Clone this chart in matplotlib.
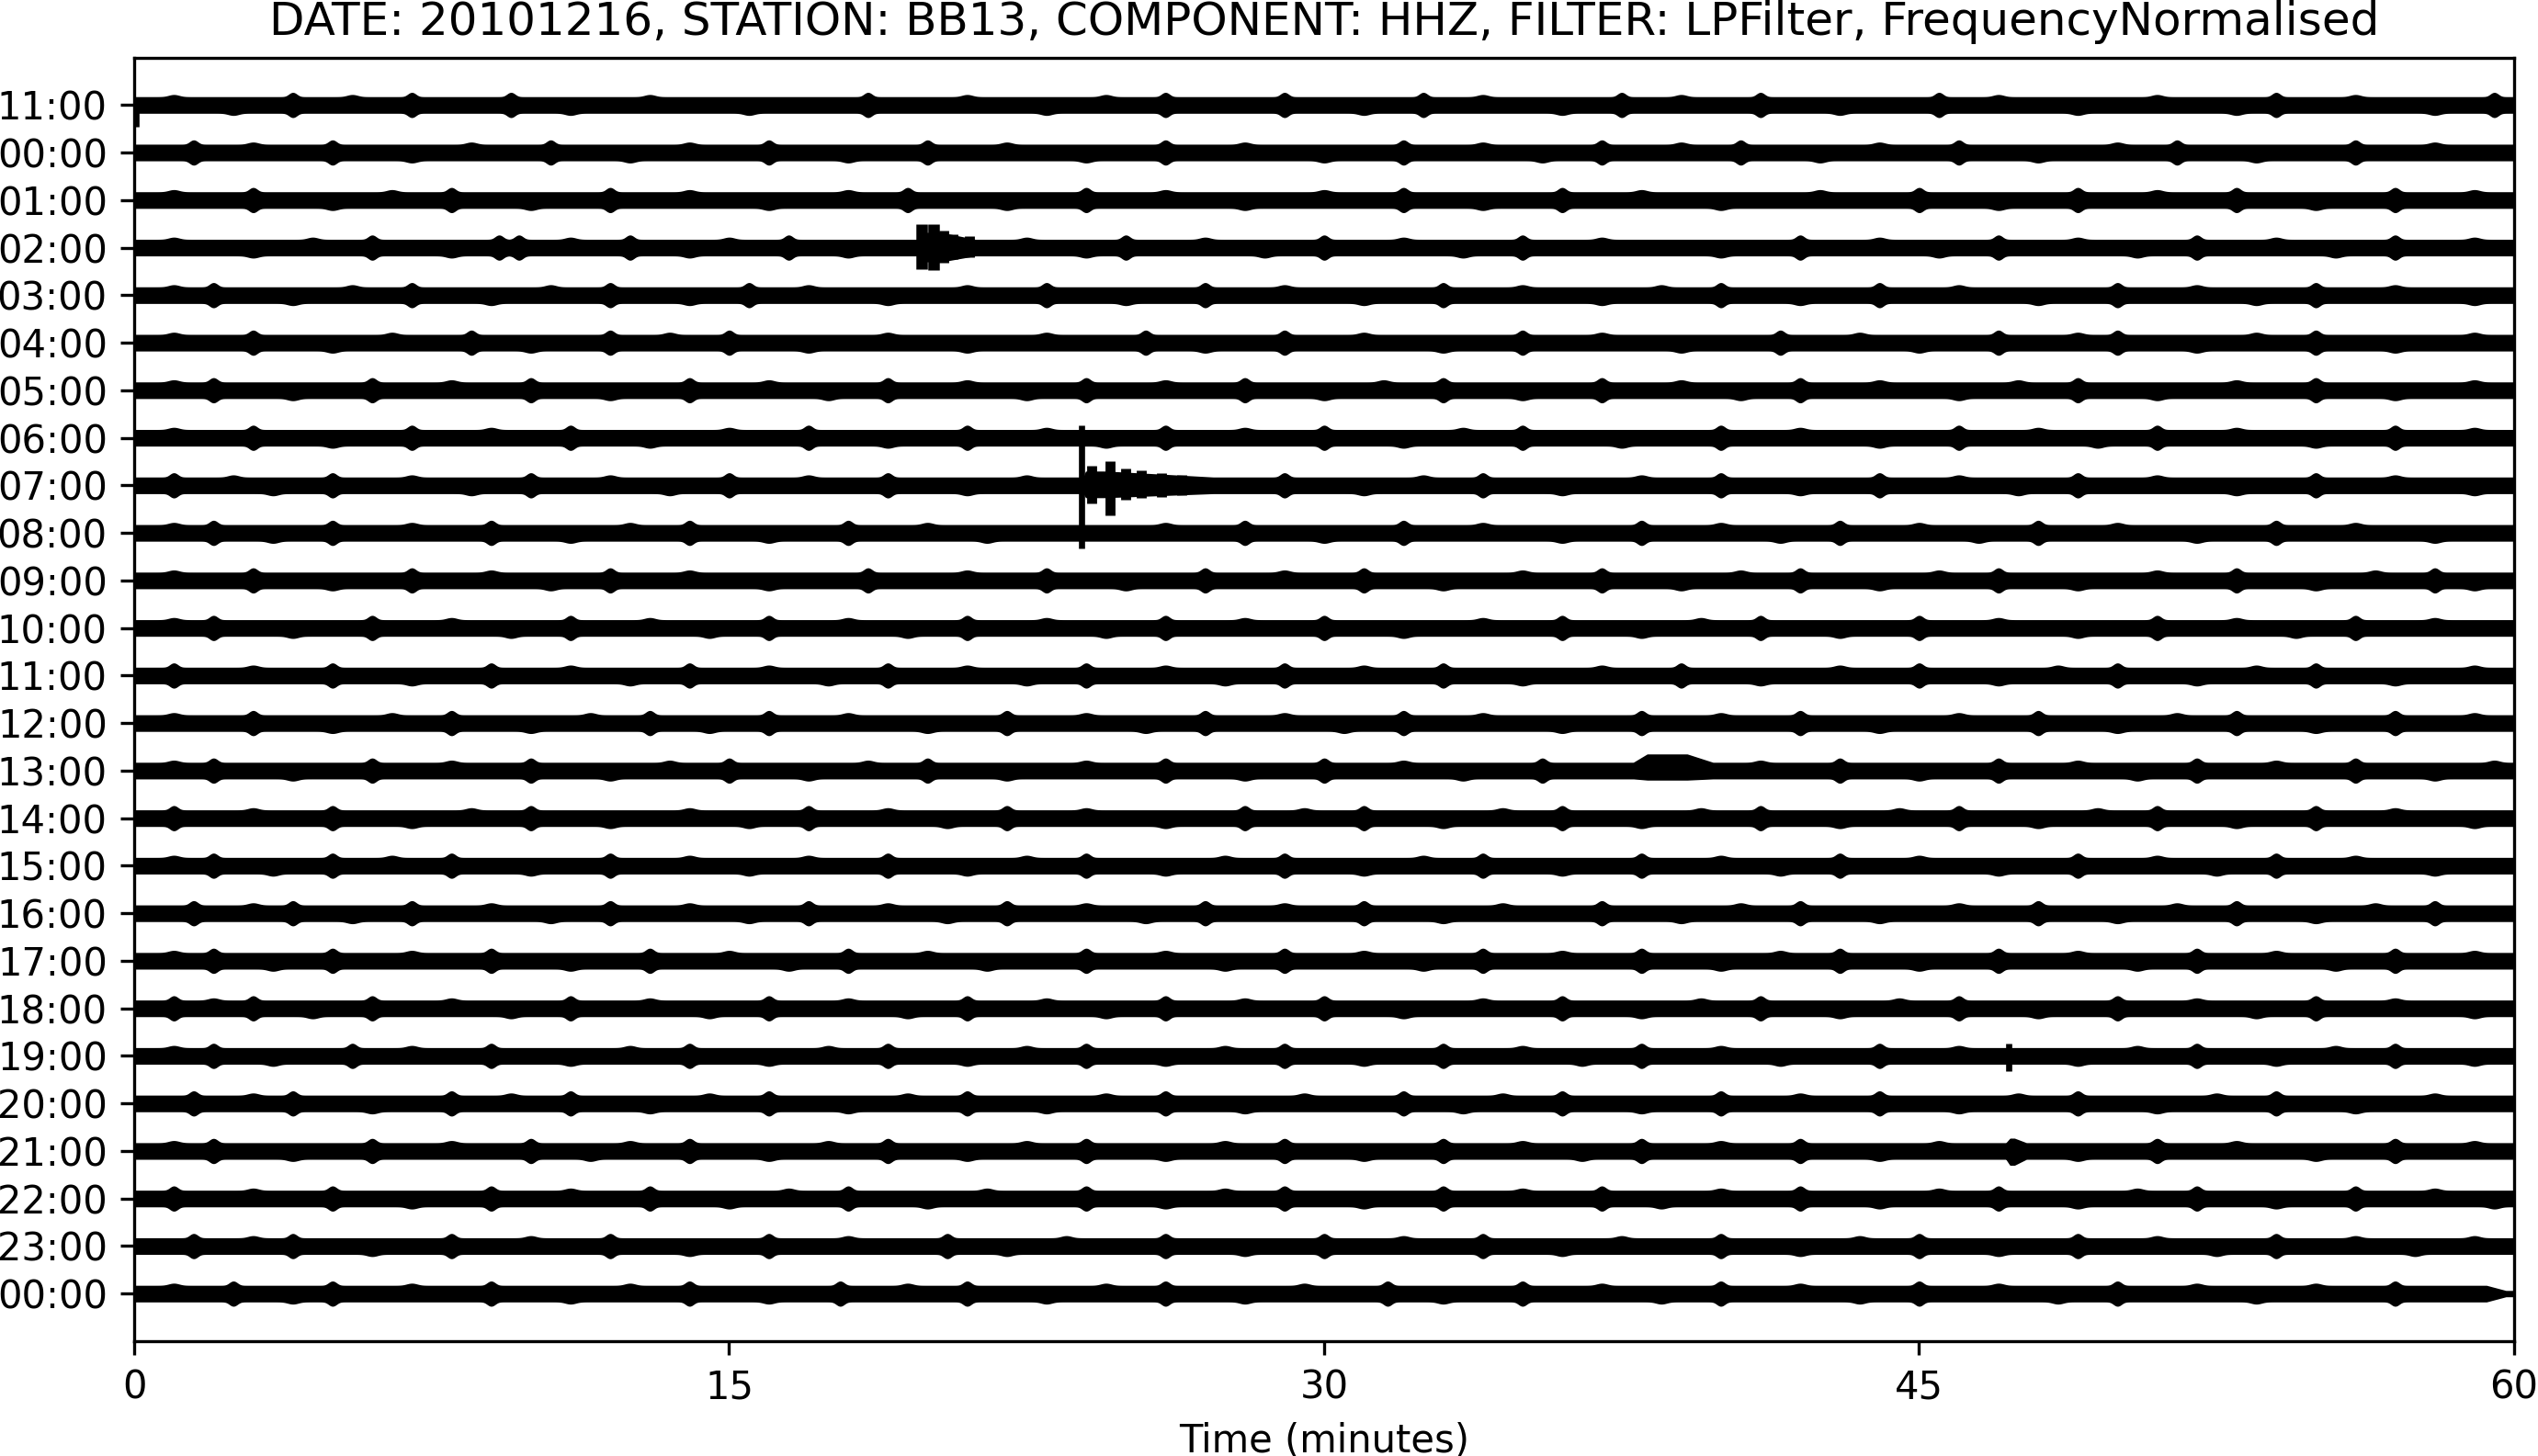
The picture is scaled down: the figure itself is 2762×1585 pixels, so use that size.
import numpy as np
import matplotlib
matplotlib.use('Agg')
import matplotlib.pyplot as plt

title = 'DATE: 20101216, STATION: BB13, COMPONENT: HHZ, FILTER: LPFilter, FrequencyNormalised'

hour_labels = ['11:00', '00:00', '01:00', '02:00', '03:00', '04:00', '05:00', '06:00',
               '07:00', '08:00', '09:00', '10:00', '11:00', '12:00', '13:00', '14:00',
               '15:00', '16:00', '17:00', '18:00', '19:00', '20:00', '21:00', '22:00',
               '23:00', '00:00']

# half width of the noise band (in row units)
base_halfwidth = 0.155
major_height = 0.09
minor_height = 0.045

# minutes where the noise band swells clearly, read per row
major_bumps = [
    [4, 7, 9.5, 18.5, 26, 29, 32.5, 37.5, 41, 45.5, 54, 59.5],
    [1.5, 5, 10.5, 16, 20, 26, 32, 37, 40.5, 46, 51.5, 56],
    [3, 8, 12, 19.5, 24, 32, 36, 45, 49, 53, 57],
    [6, 9.2, 9.7, 12.5, 16.5, 25, 30, 35, 42, 47, 52, 57],
    [2, 7, 12, 15.5, 23, 27, 33, 40, 44, 50, 55],
    [3, 8.5, 12, 15, 25.5, 29, 35, 41.5, 47, 50, 55],
    [2, 6, 10, 14, 19, 24, 28, 33, 37, 42, 49, 55],
    [3, 7, 11, 17, 21, 26, 30, 35, 40, 46, 51, 57],
    [1, 5, 10, 15, 19, 29, 34, 40, 44, 49, 55],
    [2, 5, 9, 14, 18, 28, 32, 38, 43, 48, 54],
    [3, 7, 12, 18.5, 23, 27, 31, 37, 42, 47, 53, 58],
    [2, 6, 11, 16, 21, 26, 30, 36, 41, 45, 51, 56],
    [1, 5, 9, 14, 19, 24, 29, 33, 39, 45, 50, 55],
    [3, 8, 13, 16, 22, 27, 32, 38, 42, 48, 53, 57],
    [2, 6, 10, 15, 20, 26, 30, 35.5, 43, 47, 52, 56],
    [1, 5, 10, 17, 22, 28, 31, 36, 41, 46, 51, 55],
    [2, 5, 8, 12, 19, 24, 29, 34, 38, 43, 49, 54],
    [1.5, 4, 7, 12, 17, 22, 27, 31, 37, 42, 48, 53, 58],
    [2, 5, 9, 13, 18, 24, 29, 34, 38, 43, 47, 52, 57],
    [1, 3, 6, 11, 16, 21, 26, 30, 36, 41, 46, 50, 55],
    [2, 5.5, 9, 14, 19, 24, 29, 33, 38, 44, 52, 57],
    [1.5, 4, 8, 11, 16, 21, 26, 32, 36, 40, 44, 49, 54],
    [2, 6, 10, 14, 19, 24, 29, 33, 38, 42, 51, 57],
    [1, 5, 9, 13, 18, 24, 29, 33, 37, 42, 47, 52, 56],
    [1.5, 4, 8, 12, 16, 20.5, 26, 30, 34, 40, 45, 49, 54],
    [2.5, 5, 9, 14, 17.8, 21, 26, 31.6, 35, 40, 45, 50, 57],
]

# smaller swellings in between
minor_bumps = [
    [1, 2.5, 5.5, 11, 13, 15.5, 21, 23, 24.5, 31, 34, 36, 39, 43, 47, 49, 51, 53, 56, 58],
    [3, 7, 8.5, 12.5, 14, 18, 22, 24, 28, 30, 34, 35.5, 39, 42.5, 44, 48, 50, 53.5, 58],
    [1, 5, 6.5, 10, 14, 16, 18, 22, 26, 28, 30, 34, 38, 40, 42.5, 47, 51, 55, 59],
    [1, 3, 4.5, 8, 11, 14, 15, 18, 22.5, 24, 27, 28.5, 32, 33.5, 37, 40, 44, 45.5, 49, 50.5, 54, 55.5, 59],
    [1, 4, 5.5, 9, 10.5, 14, 17, 19, 21, 25, 29, 31, 35, 37, 38.5, 42, 46, 48, 52, 53.5, 57, 59],
    [1, 5, 6.5, 10, 13.5, 17, 19, 21, 23, 27, 31, 33, 37, 39, 43.5, 45, 49, 52, 53.5, 57, 59],
    [1, 4, 8, 12, 16, 17.5, 21, 22.5, 26, 30, 31.5, 35, 39, 40.5, 44, 46, 47.5, 51, 53, 57, 59],
    [1, 5, 9, 13, 15, 19, 23, 24.5, 28, 32, 33.5, 37.5, 42, 44, 48, 49.5, 53, 55, 59],
    [2.5, 3.5, 7, 8.5, 12, 13.5, 17, 21, 22.5, 31, 32.5, 36, 38, 42, 46, 47.5, 51, 53, 57, 59],
    [1, 3.5, 7, 11, 12.5, 16, 20, 21.5, 26, 30, 34, 36, 40, 41.5, 45, 46.5, 50, 52, 56, 58],
    [1, 5, 9, 10.5, 14, 16, 21, 25, 29, 33, 35, 39, 40.5, 44, 45.5, 49, 51, 55, 56.5, 59],
    [1, 4, 8, 9.5, 13, 14.5, 18, 19.5, 23, 24.5, 28, 32, 34, 38, 39.5, 43, 47, 49, 53, 54.5, 58],
    [3, 7, 11, 12.5, 16, 17.5, 21, 22.5, 26, 27.5, 31, 35, 37, 41, 43, 47, 48.5, 52, 53.5, 57, 59],
    [1, 5, 6.5, 10, 11.5, 14.5, 18, 20, 24, 25.5, 29, 30.5, 34, 36, 40, 44, 46, 50, 51.5, 55, 59],
    [1, 4, 8, 12, 13.5, 17, 18.5, 22, 24, 28, 32, 33.5, 41, 45, 49, 50.5, 54, 58, 59.5],
    [3, 7, 8.5, 12, 14, 15.5, 19, 20.5, 24, 26, 29.5, 33, 34.5, 38, 39.5, 43, 44.5, 48, 49.5, 53, 57, 59],
    [1, 3.5, 6.5, 10, 14, 15.5, 17, 21, 22.5, 26, 27.5, 31, 32.5, 36, 40, 41.5, 45, 47, 51, 52.5, 56, 58],
    [3, 5.5, 9, 10.5, 14, 15.5, 19, 20.5, 24, 25.5, 29, 33, 34.5, 39, 40.5, 44, 46, 50, 51.5, 55, 56.5],
    [1, 3.5, 7, 11, 15, 16.5, 20, 21.5, 26, 27.5, 31, 32.5, 36, 40, 41.5, 45, 49, 50.5, 54, 55.5, 59],
    [2, 4.5, 8, 9.5, 13, 14.5, 18, 19.5, 23, 24.5, 28, 32, 34, 38, 39.5, 43, 44.5, 48, 52, 53.5, 57, 59],
    [1, 3.5, 7, 11, 12.5, 16, 17.5, 21, 22.5, 26, 27.5, 31, 35, 36.5, 40, 41.5, 46, 49, 50.5, 54, 55.5, 59],
    [3, 6, 9.5, 13, 14.5, 18, 19.5, 23, 24.5, 28, 29.5, 33.5, 34.5, 38, 42, 46, 47.5, 51, 52.5, 56, 58],
    [1, 4, 8, 11.5, 12.5, 16, 17.5, 21, 22.5, 26, 27.5, 31, 35, 36.5, 40, 44, 45.5, 49, 53, 55, 59],
    [3, 7, 11, 15, 16.5, 20, 21.5, 26, 27.5, 31, 35, 38.5, 40, 44, 45.5, 49, 50.5, 54, 58, 59.5],
    [3, 6, 10, 14, 18, 22, 23.5, 28, 32, 36, 37.5, 42, 43.5, 47, 51, 52.5, 56, 57.5, 59],
    [1, 4, 7, 11, 12.5, 16, 19.5, 23, 24.5, 28, 29.5, 33, 37, 38.5, 42, 43.5, 47, 48.5, 52, 53.5, 55],
]

# emergent events: row, start, rise, hold, end (minutes), upward amp, downward amp
burst_row = [3, 8, 14, 22]
burst_start = [19.8, 23.95, 37.8, 47.2]
burst_rise = [0.05, 0.05, 0.35, 0.1]
burst_hold = [0.5, 0.5, 1.0, 0.1]
burst_end = [21.2, 27.2, 39.8, 47.7]
burst_up = [0.30, 0.28, 0.33, 0.25]
burst_down = [0.28, 0.24, 0.18, 0.28]

# short spikes: row, minute, upward reach, downward reach
spike_row = [8, 8, 8, 8, 8, 8, 8, 3, 3, 3, 3, 3, 20, 0]
spike_min = [23.88, 24.15, 24.6, 25.0, 25.4, 25.9, 26.4, 19.85, 20.15, 20.4, 20.65, 21.05,
             47.25, 0.05]
spike_up = [1.27, 0.42, 0.50, 0.36, 0.32, 0.26, 0.22, 0.49, 0.49, 0.35, 0.28, 0.24, 0.26, 0.10]
spike_down = [1.33, 0.38, 0.64, 0.30, 0.26, 0.24, 0.2, 0.45, 0.47, 0.32, 0.25, 0.2, 0.32, 0.45]
spike_width = [1.6, 2.6, 2.6, 2.6, 2.6, 2.6, 2.6, 3.0, 3.0, 2.6, 2.6, 2.6, 1.6, 1.6]

t = np.linspace(0, 60, 12001)

fig = plt.figure(figsize=(2762 / 300, 1585 / 300), dpi=300)
ax = fig.add_axes([146 / 2762, 1 - 1460 / 1585, (2736 - 146) / 2762, (1460 - 62.5) / 1585])

for row in range(len(hour_labels)):
    up = np.full_like(t, base_halfwidth)
    down = np.full_like(t, base_halfwidth)
    for m in major_bumps[row]:
        b = base_halfwidth + major_height * np.exp(-((t - m) / 0.13) ** 2)
        up = np.maximum(up, b)
        down = np.maximum(down, b)
    for i, m in enumerate(minor_bumps[row]):
        b = base_halfwidth + minor_height * np.exp(-((t - m) / 0.18) ** 2)
        # minor swellings alternate sides a little
        if i % 2 == 0:
            up = np.maximum(up, b)
        else:
            down = np.maximum(down, b)
    for r, s, rs, h, e, a_up, a_dn in zip(burst_row, burst_start, burst_rise, burst_hold,
                                          burst_end, burst_up, burst_down):
        if r != row:
            continue
        shape = np.clip((t - s) / rs, 0, 1) * np.clip(1 - (t - s - rs - h) / (e - s - rs - h), 0, 1)
        up = np.maximum(up, base_halfwidth + (a_up - base_halfwidth) * shape)
        down = np.maximum(down, base_halfwidth + (a_dn - base_halfwidth) * shape)
    if row == len(hour_labels) - 1:
        taper = np.clip((60 - t) / 0.7, 0.3, 1)
        up = up * taper
        down = down * taper
    ax.fill_between(t, row - up, row + down, color='black', lw=0.5)

for r, m, a_up, a_dn, w in zip(spike_row, spike_min, spike_up, spike_down, spike_width):
    ax.vlines(m, r - a_up, r + a_dn, color='black', lw=w)

ax.set_xlim(0, 60)
ax.set_ylim(len(hour_labels), -1)
ax.set_yticks(range(len(hour_labels)))
ax.set_yticklabels(hour_labels)
ax.set_xticks([0, 15, 30, 45, 60])
ax.set_xlabel('Time (minutes)')
ax.set_title(title)

fig.savefig('out.png', dpi=300)
